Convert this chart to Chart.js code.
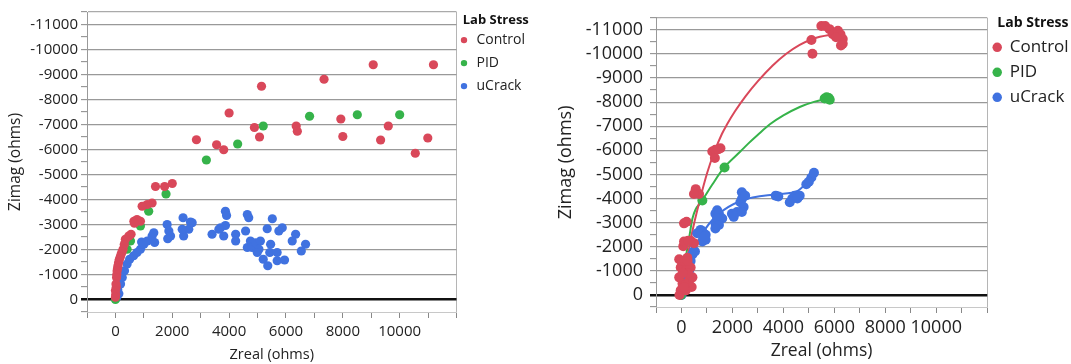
<!DOCTYPE html>
<html>
<head>
<meta charset="utf-8">
<title>Lab Stress – Zreal vs Zimag</title>
<script src="https://cdn.jsdelivr.net/npm/chart.js@4.4.1/dist/chart.umd.min.js"></script>
<style>
  html, body { margin: 0; padding: 0; background: #fff; }
  #wrap { position: relative; width: 1071px; height: 364px; }
  canvas { position: absolute; top: 0; }
  #left { left: 0; }
  #right { left: 540px; }
</style>
</head>
<body>
<div id="wrap">
  <canvas id="left" width="540" height="364"></canvas>
  <canvas id="right" width="531" height="364"></canvas>
</div>
<script>
// Lab Stress groups
const seriesNames = ['Control', 'PID', 'uCrack'];
const seriesColors = ['#D9485A', '#36B34A', '#4072E0'];

// labelled ticks (ohms)
const xLabelTicks = [0, 2000, 4000, 6000, 8000, 10000];
const yLabelStep = 1000;

// left panel, [Zreal, Zimag]
const leftControl = [
  [11190, -9390], [9070, -9390], [7340, -8810], [5140, -8530], [4000, -7460], [7930, -7220],
  [9600, -6940], [4890, -6880], [6360, -6940], [6400, -6730], [5070, -6500], [8000, -6520],
  [9330, -6380], [10990, -6460], [10550, -5850], [2850, -6390], [3560, -6190], [3810, -5990],
  [2000, -4640], [1730, -4520], [1410, -4520], [1290, -3860], [1120, -3800], [940, -3730],
  [880, -3130], [760, -3200], [650, -3130], [670, -3050], [550, -2610], [470, -2540], [350, -2410],
  [310, -2200], [270, -2010], [230, -1900], [200, -1810], [170, -1700], [140, -1610], [110, -1480],
  [90, -1350], [75, -1250], [60, -1150], [50, -1000], [40, -880], [30, -500], [20, -620],
  [10, -200], [0, -360], [0, -90]
];
const leftPID = [
  [10000, -7390], [8510, -7390], [6830, -7330], [5200, -6940], [4300, -6220], [3200, -5580],
  [1780, -4220], [1170, -3530], [880, -2940], [530, -2340], [410, -2010], [0, 0]
];
const leftUCrack = [
  [20, -50], [50, -100], [80, -400], [120, -230], [180, -620], [240, -880], [320, -1150],
  [410, -1420], [500, -1610], [640, -1750], [760, -1880], [880, -2010], [920, -2300], [1000, -2210],
  [1120, -2340], [1290, -2540], [1350, -2670], [1380, -2280], [1820, -3000], [1880, -2740],
  [1940, -2540], [1840, -2430], [2380, -3270], [2640, -3100], [2580, -2810], [2400, -2540],
  [2350, -2810], [2700, -3070], [3870, -3530], [3910, -3360], [3870, -2960], [3700, -2870],
  [3400, -2610], [3810, -2540], [3640, -2810], [4230, -2610], [4230, -2340], [4640, -3400],
  [4690, -3270], [4580, -2740], [4750, -2340], [4640, -2080], [4810, -2080], [4930, -2270],
  [5100, -2340], [5050, -2010], [4990, -1880], [5200, -1610], [5360, -1350], [5520, -3230],
  [5340, -2830], [5460, -2210], [5430, -1880], [5690, -1880], [5690, -1550], [5950, -1580],
  [5750, -2740], [5870, -2870], [6340, -2610], [6220, -2340], [6690, -2210], [6540, -1940]
];

// right panel, [Zreal, Zimag]
const rightControl = [
  [-80, 0], [-30, -190], [40, -460], [-90, -730], [300, -600], [-30, -1140], [170, -1000],
  [360, -1140], [-90, -1480], [230, -1540], [430, -730], [400, -330], [170, -190], [0, -1410],
  [130, -1410], [240, -1410], [100, -330], [250, -900], [50, -900], [70, -2020], [100, -2220],
  [360, -2250], [490, -2150], [260, -2250], [100, -2970], [200, -3040], [560, -4390], [690, -4190],
  [490, -4190], [1210, -5950], [1330, -6020], [1530, -6090], [1310, -5680], [1450, -6050],
  [5100, -10580], [5140, -10010], [5490, -11160], [5640, -11160], [5810, -11030], [5940, -10820],
  [6140, -10960], [6240, -10820], [6330, -10620], [6330, -10420], [6260, -10350], [6070, -10690]
];
const rightPID = [
  [-20, 0], [820, -3920], [1690, -5290], [5620, -8150], [5700, -8200], [5780, -8170], [5820, -8100]
];
const rightUCrack = [
  [0, 0], [100, -460], [170, -730], [300, -1000], [360, -1410], [430, -1680], [490, -1820],
  [530, -1800], [620, -2560], [750, -2700], [820, -2630], [950, -2500], [950, -2290], [820, -2220],
  [900, -2430], [1330, -3370], [1400, -3510], [1470, -3370], [1600, -3170], [1330, -2970],
  [1400, -3170], [1470, -2900], [1330, -2760], [1980, -3370], [2050, -3240], [2180, -3440],
  [2310, -3850], [2370, -4260], [2370, -3980], [2440, -3650], [2370, -3440], [2500, -4120],
  [3800, -4090], [3700, -4120], [4250, -3850], [4450, -4120], [4640, -4120], [4350, -4000],
  [4550, -4000], [4900, -4590], [5100, -4870], [5200, -5070], [5000, -4700]
];

// smoothed fits drawn over the right panel
const fitControl = [
  [0, 0], [170, -1140], [400, -2500], [730, -3980], [1010, -5070], [1270, -5880], [1590, -6690],
  [1790, -7080], [2100, -7620], [2520, -8250], [3000, -8870], [3580, -9520], [4100, -10000],
  [4640, -10380], [5100, -10600], [5430, -10710], [5800, -10790], [6230, -10840]
];
const fitPID = [
  [0, 0], [170, -1540], [300, -2360], [430, -3170], [560, -3560], [700, -3760], [850, -3980],
  [1210, -4580], [1660, -5270], [2310, -5950], [2630, -6290], [3000, -6650], [3470, -7080],
  [4000, -7450], [4640, -7800], [5200, -8010], [5700, -8140]
];
const fitUCrack = [
  [0, 0], [170, -530], [360, -1140], [490, -1820], [820, -2560], [1400, -3310], [2370, -3920],
  [3740, -4180], [4580, -4330], [5100, -4900]
];

const FONT = '"Open Sans", "DejaVu Sans", sans-serif';
const TEXT = '#222';
const GRID = '#999';
const FRAME = '#999';
const TICK = '#888';

const toPoints = (pairs) => pairs.map(([x, y]) => ({ x, y }));

function scatterSet(label, color, pairs, radius) {
  return {
    label,
    data: toPoints(pairs),
    backgroundColor: color,
    borderColor: color,
    borderWidth: 0,
    pointRadius: radius,
    pointHoverRadius: radius
  };
}

function fitSet(color, pairs) {
  return {
    label: 'fit',
    data: toPoints(pairs),
    showLine: true,
    borderColor: color,
    backgroundColor: color,
    borderWidth: 2,
    pointRadius: 0,
    cubicInterpolationMode: 'monotone',
    fill: false
  };
}

function panelOptions(s) {
  return {
    responsive: false,
    animation: false,
    events: [],
    layout: { padding: { top: s.padTop, right: s.padRight, bottom: 0, left: 0 } },
    plugins: {
      tooltip: { enabled: false },
      legend: {
        position: 'right',
        align: 'start',
        title: {
          display: true,
          text: 'Lab Stress',
          position: 'center',
          color: '#111',
          font: { family: FONT, size: s.legendTitleSize, weight: 'bold' },
          padding: { top: s.legendTitleTop, bottom: s.legendTitleBottom }
        },
        labels: {
          usePointStyle: true,
          pointStyle: 'circle',
          boxWidth: s.boxW,
          boxHeight: s.boxH,
          padding: s.legendPad,
          color: TEXT,
          font: { family: FONT, size: s.legendSize, lineHeight: s.legendLine },
          generateLabels: (chart) => Chart.defaults.plugins.legend.labels.generateLabels(chart)
            .map((item) => ({ ...item, text: [item.text] })),
          filter: (item) => item.datasetIndex < seriesNames.length
        }
      }
    },
    scales: {
      x: {
        type: 'linear',
        min: -1000,
        max: 12000,
        afterFit: (scale) => { scale.height = s.xHeight; },
        ticks: {
          stepSize: 1000,
          autoSkip: false,
          maxRotation: 0,
          padding: s.xTickPad,
          color: TEXT,
          font: { family: FONT, size: s.tickSize },
          callback: (v) => (xLabelTicks.includes(v) ? String(v) : '')
        },
        grid: {
          color: (ctx) => (ctx.tick && ctx.tick.value === 12000 ? '#b5b5b5' : 'transparent'),
          tickColor: TICK,
          tickLength: s.tickLen,
          lineWidth: 1
        },
        border: { display: true, color: '#c8c8c8', width: 1 },
        title: {
          display: true,
          text: 'Zreal (ohms)',
          color: TEXT,
          font: { family: FONT, size: s.titleSize },
          padding: { top: 0, bottom: s.xTitlePad }
        }
      },
      y: {
        type: 'linear',
        reverse: true,
        min: -11500,
        max: 500,
        afterFit: (scale) => { scale.width = s.yWidth; },
        ticks: {
          stepSize: 500,
          autoSkip: false,
          padding: s.yTickPad,
          color: TEXT,
          font: { family: FONT, size: s.tickSize },
          callback: (v) => (v % yLabelStep === 0 ? String(v) : '')
        },
        grid: {
          color: (ctx) => {
            const v = ctx.tick.value;
            if (v === 0) return '#111';
            if (v === 500) return 'transparent';
            if (v === -11500) return '#aaa';
            return v % yLabelStep === 0 ? GRID : 'transparent';
          },
          lineWidth: (ctx) => (ctx.tick.value === 0 ? 2.5 : 1.3),
          tickColor: (ctx) => (ctx.tick.value === 0 ? '#111' : TICK),
          tickWidth: (ctx) => (ctx.tick.value === 0 ? 2.5 : 1),
          tickLength: s.tickLen
        },
        border: { display: true, color: FRAME, width: 1 },
        title: {
          display: true,
          text: 'Zimag (ohms)',
          color: TEXT,
          font: { family: FONT, size: s.yTitleSize },
          padding: { top: s.yTitlePad, bottom: 0 }
        }
      }
    }
  };
}

// raw readings only
new Chart(document.getElementById('left'), {
  type: 'scatter',
  data: {
    datasets: [
      scatterSet(seriesNames[0], seriesColors[0], leftControl, 4.6),
      scatterSet(seriesNames[1], seriesColors[1], leftPID, 4.6),
      scatterSet(seriesNames[2], seriesColors[2], leftUCrack, 4.6)
    ]
  },
  options: panelOptions({
    padTop: 9, padRight: 5, yWidth: 87, xHeight: 52,
    tickSize: 15, tickLen: 6, xTickPad: 5, yTickPad: 3,
    titleSize: 14.5, yTitleSize: 15.5, yTitlePad: 6, xTitlePad: 0,
    legendSize: 14, legendLine: 1.5, legendPad: 2, boxW: 11, boxH: 4.5,
    legendTitleSize: 13, legendTitleTop: 4.5, legendTitleBottom: 2
  })
});

// readings with their smoothed fits
new Chart(document.getElementById('right'), {
  type: 'scatter',
  data: {
    datasets: [
      scatterSet(seriesNames[0], seriesColors[0], rightControl, 5),
      scatterSet(seriesNames[1], seriesColors[1], rightPID, 5),
      scatterSet(seriesNames[2], seriesColors[2], rightUCrack, 5),
      fitSet(seriesColors[0], fitControl),
      fitSet(seriesColors[1], fitPID),
      fitSet(seriesColors[2], fitUCrack)
    ]
  },
  options: panelOptions({
    padTop: 13, padRight: -7.6, yWidth: 116, xHeight: 57,
    tickSize: 18, tickLen: 6, xTickPad: 4, yTickPad: 7,
    titleSize: 17.5, yTitleSize: 18, yTitlePad: 15, xTitlePad: 2,
    legendSize: 17, legendLine: 19 / 17, legendPad: 6, boxW: 8, boxH: 6.7,
    legendTitleSize: 14, legendTitleTop: 3, legendTitleBottom: 0
  })
});
</script>
</body>
</html>
